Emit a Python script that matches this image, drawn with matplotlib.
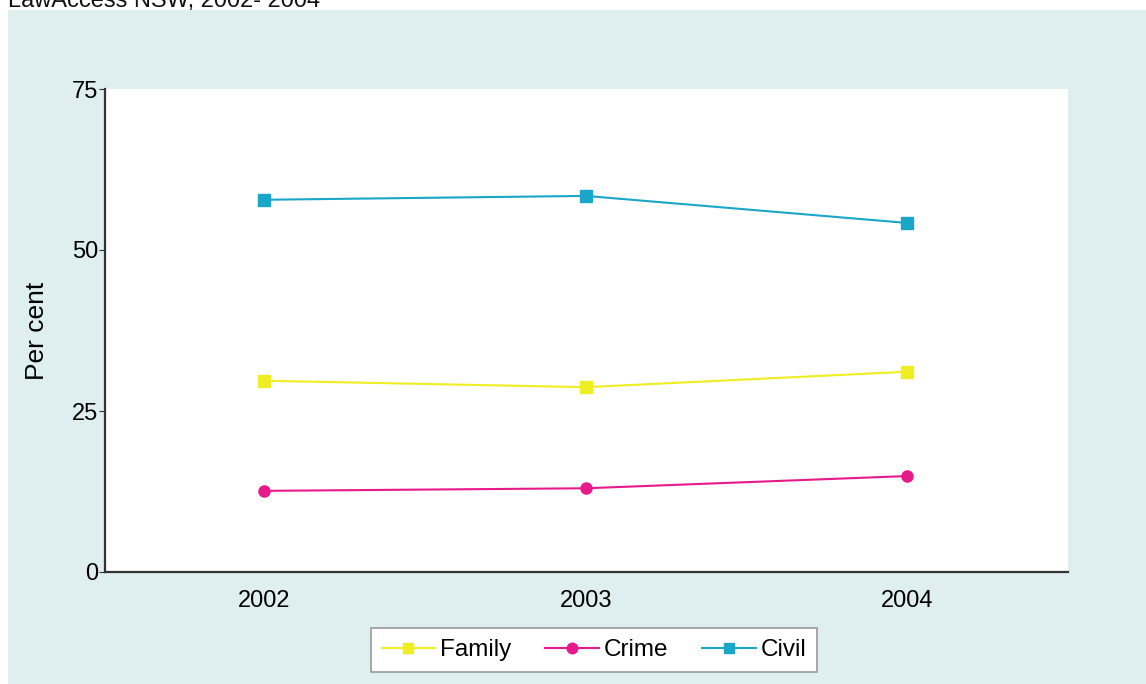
import matplotlib.pyplot as plt
from matplotlib.patches import Rectangle

plt.rcParams['font.family'] = ['Liberation Sans', 'DejaVu Sans']

years = [2002, 2003, 2004]
family = [29.7, 28.7, 31.1]
crime = [12.6, 13.0, 14.9]
civil = [57.8, 58.4, 54.2]
yticks = [0, 25, 50, 75]

W, H = 1146, 684
fig = plt.figure(figsize=(W / 100, H / 100), dpi=100)
fig.patch.set_facecolor('white')

# light panel behind the chart
fig.patches.append(Rectangle((8 / W, 0), 1 - 8 / W, (H - 10) / H,
                             transform=fig.transFigure, facecolor='#dfeeee',
                             edgecolor='none', zorder=-10))

# title, clipped at the top like the original
fig.text(8 / W, 1 - 7 / H, 'LawAccess NSW, 2002- 2004', fontsize=17,
         va='baseline', ha='left', color='#111111')

ax = fig.add_axes([105 / W, 1 - 572 / H, (1068 - 105) / W, (572 - 89) / H])
ax.set_facecolor('white')

ax.plot(years, family, color='#eeee22', marker='s', markersize=8, lw=1.5, label='Family')
ax.plot(years, crime, color='#e8198b', marker='o', markersize=8, lw=1.5, label='Crime')
ax.plot(years, civil, color='#1aa6c8', marker='s', markersize=8, lw=1.5, label='Civil')

ax.set_xlim(2001.505, 2004.5)
ax.set_ylim(0, 75)
ax.set_xticks(years)
ax.set_xticklabels([str(y) for y in years])
ax.set_yticks(yticks)
ax.tick_params(axis='x', length=0, labelsize=17, pad=13)
ax.tick_params(axis='y', length=4, labelsize=17, pad=1, color='#333333')
for s in ['top', 'right']:
    ax.spines[s].set_visible(False)
for s in ['left', 'bottom']:
    ax.spines[s].set_color('#333333')
    ax.spines[s].set_linewidth(1.6)

ax.set_ylabel('Per cent', fontsize=19, labelpad=16)

leg = fig.legend(loc='center', bbox_to_anchor=(594 / W, 1 - 650 / H), ncol=3,
                 fontsize=17.5, frameon=True, fancybox=False, edgecolor='#999999',
                 facecolor='white', framealpha=1,
                 handlelength=2.2, handletextpad=0.2, columnspacing=1.4,
                 markerscale=0.95, borderpad=0.45)
leg.get_frame().set_linewidth(1.2)

fig.savefig('out.png', dpi=100)
